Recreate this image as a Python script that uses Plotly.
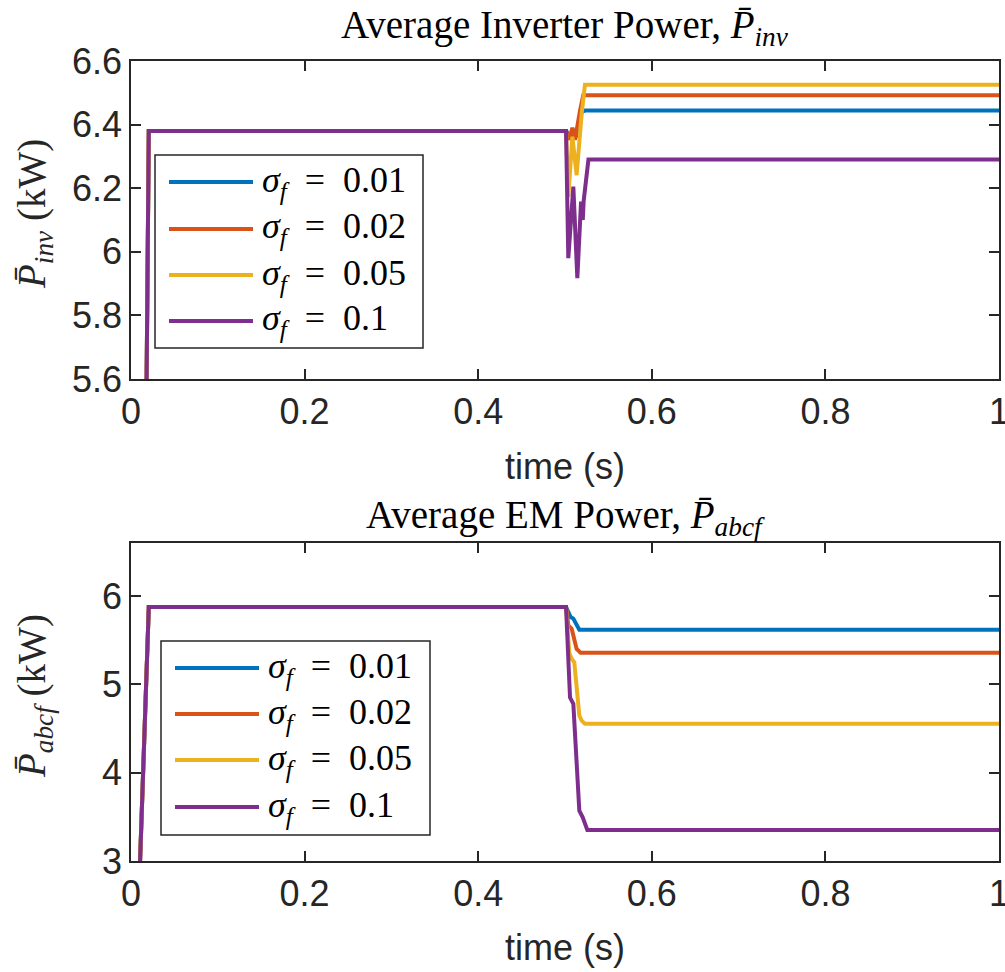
import plotly.graph_objects as go

# ---------------- data ----------------
labels = ["0.01", "0.02", "0.05", "0.1"]
colors = ["#0072BD", "#D95319", "#EDB120", "#7E2F8E"]

x_ticks = [0, 0.2, 0.4, 0.6, 0.8, 1]
x_ticktext = ["0", "0.2", "0.4", "0.6", "0.8", "1"]
y_top_ticks = [5.6, 5.8, 6.0, 6.2, 6.4, 6.6]
y_top_ticktext = ["5.6", "5.8", "6", "6.2", "6.4", "6.6"]
y_bot_ticks = [3, 4, 5, 6]
y_bot_ticktext = ["3", "4", "5", "6"]

# Top: average inverter power (kW)
t_inv_1 = [0, 0.0205, 0.5012, 0.505, 0.5096, 0.5134, 0.5192, 0.523, 1.0]
p_inv_1 = [0, 6.38, 6.38, 6.367, 6.38, 6.36, 6.44, 6.444, 6.444]
t_inv_2 = [0, 0.0205, 0.5012, 0.505, 0.5085, 0.5115, 0.5173, 0.521, 1.0]
p_inv_2 = [0, 6.38, 6.38, 6.352, 6.39, 6.352, 6.444, 6.492, 6.492]
t_inv_5 = [0, 0.0205, 0.5012, 0.5038, 0.5085, 0.5134, 0.5192, 0.523, 1.0]
p_inv_5 = [0, 6.38, 6.38, 6.173, 6.362, 6.241, 6.435, 6.525, 6.525]
t_inv_10 = [0, 0.0205, 0.5012, 0.5038, 0.5096, 0.5142, 0.5185, 0.5205, 0.5215, 0.527, 1.0]
p_inv_10 = [0, 6.38, 6.38, 5.98, 6.205, 5.917, 6.158, 6.10, 6.16, 6.29, 6.29]

# Bottom: average EM power (kW)
t_em_1 = [0, 0.0205, 0.5012, 0.5065, 0.5096, 0.5165, 1.0]
p_em_1 = [0, 5.876, 5.876, 5.762, 5.744, 5.619, 5.619]
t_em_2 = [0, 0.0205, 0.5012, 0.5038, 0.5077, 0.5134, 0.518, 1.0]
p_em_2 = [0, 5.876, 5.876, 5.668, 5.63, 5.40, 5.358, 5.358]
t_em_5 = [0, 0.0205, 0.5012, 0.505, 0.5077, 0.5107, 0.5165, 0.5192, 0.523, 1.0]
p_em_5 = [0, 5.876, 5.876, 5.35, 5.29, 5.25, 4.647, 4.59, 4.553, 4.553]
t_em_10 = [0, 0.0205, 0.5012, 0.5058, 0.5096, 0.5165, 0.5204, 0.5257, 1.0]
p_em_10 = [0, 5.876, 5.876, 4.85, 4.78, 3.57, 3.494, 3.351, 3.351]

top_series = [(t_inv_1, p_inv_1), (t_inv_2, p_inv_2), (t_inv_5, p_inv_5), (t_inv_10, p_inv_10)]
bot_series = [(t_em_1, p_em_1), (t_em_2, p_em_2), (t_em_5, p_em_5), (t_em_10, p_em_10)]

# ---------------- layout helpers ----------------
W, H = 1005, 972
ML, MR, MT, MB = 131, 6, 61, 111
PW, PH = W - ML - MR, H - MT - MB


def px(x):
    return (x - ML) / PW


def py(y):
    return (H - MB - y) / PH


AX = "#262626"
SERIF = "Liberation Serif"
SANS = "Liberation Sans"
LW = 4

fig = go.Figure()
for (t, p), c in zip(top_series, colors):
    fig.add_trace(go.Scatter(x=t, y=p, mode="lines", line=dict(color=c, width=LW),
                             xaxis="x", yaxis="y", showlegend=False))
for (t, p), c in zip(bot_series, colors):
    fig.add_trace(go.Scatter(x=t, y=p, mode="lines", line=dict(color=c, width=LW),
                             xaxis="x2", yaxis="y2", showlegend=False))

axis_common = dict(showline=True, linecolor=AX, linewidth=1.5, mirror="allticks",
                   ticks="inside", ticklen=10, tickwidth=1.5, tickcolor=AX,
                   showgrid=False, zeroline=False, automargin=False,
                   ticklabeloverflow="allow",
                   tickfont=dict(family=SANS, size=36, color=AX))

fig.update_layout(
    width=W, height=H,
    margin=dict(l=ML, r=MR, t=MT, b=MB),
    plot_bgcolor="white", paper_bgcolor="white",
    xaxis=dict(domain=[0, 1], anchor="y", range=[0, 1], tickmode="array",
               tickvals=x_ticks, ticktext=x_ticktext, **axis_common),
    yaxis=dict(domain=[1 - 318 / PH, 1], anchor="x", range=[5.6, 6.6], tickmode="array",
               tickvals=y_top_ticks, ticktext=y_top_ticktext, **axis_common),
    xaxis2=dict(domain=[0, 1], anchor="y2", range=[0, 1], tickmode="array",
                tickvals=x_ticks, ticktext=x_ticktext, **axis_common),
    yaxis2=dict(domain=[0, 318 / PH], anchor="x2", range=[3, 6.6], tickmode="array",
                tickvals=y_bot_ticks, ticktext=y_bot_ticktext, **axis_common),
)

ann = []
# titles
ann.append(dict(text="Average Inverter Power, <i>P̄</i><sub><i>inv</i></sub>", x=0.5, y=py(27),
                font=dict(family=SERIF, size=39, color="black")))
ann.append(dict(text="Average EM Power, <i>P̄</i><sub><i>abcf</i></sub>", x=0.5, y=py(517),
                font=dict(family=SERIF, size=39, color="black")))
# x labels
for yy in (466, 948):
    ann.append(dict(text="time (s)", x=0.5, y=py(yy), font=dict(family=SANS, size=36, color=AX)))
# y labels
ann.append(dict(text="<i>P̄</i><sub><i>inv</i></sub> (kW)", x=px(34), y=py(214), textangle=-90,
                font=dict(family=SERIF, size=39, color=AX)))
ann.append(dict(text="<i>P̄</i><sub><i>abcf</i></sub> (kW)", x=px(34), y=py(696), textangle=-90,
                font=dict(family=SERIF, size=39, color=AX)))

shapes = []
legends = [
    dict(box=(155, 155, 423, 348), rows=[182, 229, 275, 321], lx=(169, 253), tx=260),
    dict(box=(161, 641, 430, 835), rows=[668, 714, 760, 807], lx=(175, 259), tx=266),
]
for lg in legends:
    x0, y0, x1, y1 = lg["box"]
    shapes.append(dict(type="rect", xref="paper", yref="paper", x0=px(x0), x1=px(x1),
                       y0=py(y1), y1=py(y0), line=dict(color=AX, width=1.5),
                       fillcolor="white", layer="above"))
    for r, c, lab in zip(lg["rows"], colors, labels):
        shapes.append(dict(type="line", xref="paper", yref="paper", x0=px(lg["lx"][0]),
                           x1=px(lg["lx"][1]), y0=py(r), y1=py(r),
                           line=dict(color=c, width=LW), layer="above"))
        ann.append(dict(text="<i>σ</i><sub><i>f</i></sub>  =  " + lab, x=px(lg["tx"]), y=py(r),
                        xanchor="left", font=dict(family=SERIF, size=36, color="black")))

for a in ann:
    a.setdefault("xanchor", "center")
    a.update(xref="paper", yref="paper", showarrow=False, yanchor="middle")
fig.update_layout(annotations=ann, shapes=shapes)

fig.write_html("out.html")
